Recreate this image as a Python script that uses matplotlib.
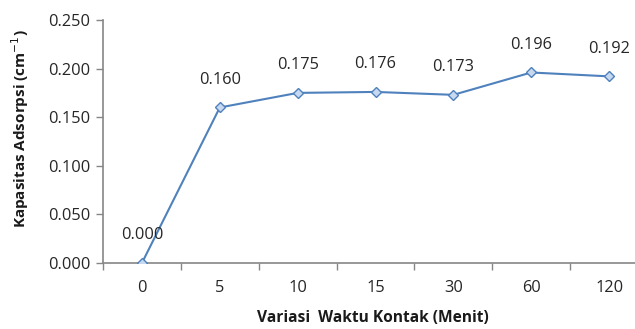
import numpy as np
import matplotlib.pyplot as plt

waktu = ["0", "5", "10", "15", "30", "60", "120"]
kapasitas = [0.000, 0.160, 0.175, 0.176, 0.173, 0.196, 0.192]
y_ticks = [0.000, 0.050, 0.100, 0.150, 0.200, 0.250]

plt.rcParams['font.family'] = ['Open Sans', 'DejaVu Sans']

fig = plt.figure(figsize=(6.35, 3.29), dpi=100)
ax = fig.add_axes([103 / 635, 66 / 329, 545 / 635, 243 / 329])

x = np.arange(len(waktu))
ax.plot(x, kapasitas, color="#4f81bd", lw=1.5, marker="D", ms=5.5,
        mfc="#c6d9f1", mec="#4f81bd", mew=1.0, zorder=3)

for xi, yi in zip(x, kapasitas):
    ax.annotate(f"{yi:.3f}", (xi, yi), xytext=(0, 20), textcoords="offset points",
                ha="center", va="center", fontsize=11.8, color="#262626")

ax.set_xlim(-0.5, len(waktu) - 0.5)
ax.set_ylim(0, 0.25)
ax.set_yticks(y_ticks)
ax.set_yticklabels([f"{v:.3f}" for v in y_ticks])
ax.set_xticks(x)
ax.set_xticklabels(waktu)
ax.set_xticks(np.arange(-0.5, len(waktu), 1.0), minor=True)

ax.tick_params(axis="x", which="major", length=0, pad=12, labelsize=11.8, colors="#262626")
ax.tick_params(axis="x", which="minor", length=5, width=1, color="#868686", direction="out")
ax.tick_params(axis="y", length=5, width=1, color="#868686", labelsize=11.8,
               labelcolor="#262626", pad=4)

for side in ["top", "right"]:
    ax.spines[side].set_visible(False)
for side in ["left", "bottom"]:
    ax.spines[side].set_color("#868686")
    ax.spines[side].set_linewidth(1.2)

ax.set_xlabel("Variasi  Waktu Kontak (Menit)", fontsize=11.2, fontweight="bold",
              color="#1a1a1a")
ax.set_ylabel("Kapasitas Adsorpsi (cm$^{-1}$)", fontsize=11, fontweight="bold",
              color="#1a1a1a")
ax.xaxis.set_label_coords((373 - 103) / 545, -47 / 243)
ax.yaxis.set_label_coords(-72 / 545, (263 - 129) / 243)

fig.savefig("out.png", dpi=100)
